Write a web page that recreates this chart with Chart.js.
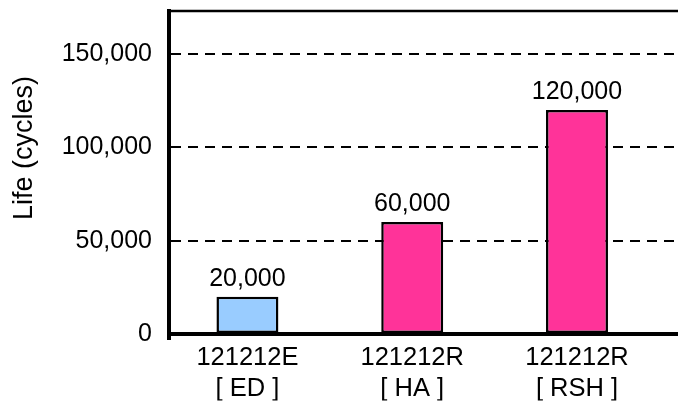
<!DOCTYPE html>
<html>
<head>
<meta charset="utf-8">
<script src="https://cdn.jsdelivr.net/npm/chart.js@4/dist/chart.umd.min.js"></script>
<style>
  html, body { margin: 0; padding: 0; background: #fff; }
  #wrap { width: 678px; height: 402px; position: relative; }
</style>
</head>
<body>
<div id="wrap"><canvas id="c"></canvas></div>
<script>
// Product variants and their rated life
const categories = [['121212E', '[ ED ]'], ['121212R', '[ HA ]'], ['121212R', '[ RSH ]']];
const lifeCycles = [20000, 60000, 120000];
const barColors = ['#99CCFF', '#FF3399', '#FF3399'];
const yTickValues = [0, 50000, 100000, 150000];
const yTitle = 'Life (cycles)';

const FONT = "'Liberation Sans', Arial, Helvetica, sans-serif";
Chart.defaults.font.family = FONT;
Chart.defaults.font.size = 25;
Chart.defaults.color = '#000';

const fmt = v => v.toLocaleString('en-US');

// Value labels above bars, axis title, top frame line and the stub of the y axis below the baseline
const decorations = {
  id: 'decorations',
  afterDatasetsDraw(chart) {
    const { ctx } = chart;
    const meta = chart.getDatasetMeta(0);
    ctx.save();
    ctx.font = '25px ' + FONT;
    ctx.fillStyle = '#000';
    ctx.textAlign = 'center';
    ctx.textBaseline = 'alphabetic';
    meta.data.forEach((bar, i) => {
      ctx.fillText(fmt(lifeCycles[i]), bar.x, bar.y - 11);
    });
    ctx.restore();
  },
  afterDraw(chart) {
    const { ctx, chartArea } = chart;
    ctx.save();
    ctx.strokeStyle = '#000';
    ctx.lineWidth = 2.5;
    ctx.beginPath();
    ctx.moveTo(chartArea.left, chartArea.top);
    ctx.lineTo(chartArea.right, chartArea.top);
    ctx.stroke();
    ctx.lineWidth = 4;
    ctx.beginPath();
    ctx.moveTo(chartArea.left, chartArea.bottom);
    ctx.lineTo(chartArea.left, chartArea.bottom + 6);
    ctx.stroke();

    // rotated y-axis title, placed a little above the plot's vertical centre
    ctx.translate(chartArea.left - 144, chartArea.top + 137);
    ctx.rotate(-Math.PI / 2);
    ctx.font = '27px ' + FONT;
    ctx.fillStyle = '#000';
    ctx.textAlign = 'center';
    ctx.textBaseline = 'middle';
    ctx.fillText(yTitle, 0, 0);
    ctx.restore();
  }
};

new Chart(document.getElementById('c'), {
  type: 'bar',
  data: {
    datasets: [{
      data: lifeCycles.map((v, i) => ({ x: i, y: v })),
      backgroundColor: barColors,
      borderColor: '#000',
      borderWidth: 2.5,
      borderSkipped: false,
      categoryPercentage: 1,
      barPercentage: 0.376
    }]
  },
  options: {
    responsive: true,
    maintainAspectRatio: false,
    animation: false,
    layout: { autoPadding: false, padding: { left: 10, right: 0, top: 11, bottom: 1.5 } },
    plugins: { legend: { display: false }, tooltip: { enabled: false } },
    scales: {
      x: {
        type: 'linear',
        offset: false,
        min: -0.476,
        max: 2.613,
        grid: { display: false },
        border: { display: true, color: '#000', width: 4 },
        afterBuildTicks: axis => { axis.ticks = categories.map((_, i) => ({ value: i })); },
        afterFit: s => { s.height = 66.5; s.paddingLeft = 0; s.paddingRight = 0; },
        ticks: {
          padding: 0,
          maxRotation: 0,
          autoSkip: false,
          font: { size: 25.5, lineHeight: 1.23 },
          callback: v => categories[v]
        }
      },
      y: {
        min: 0,
        max: 173000,
        afterBuildTicks: axis => { axis.ticks = yTickValues.map(v => ({ value: v })); },
        afterFit: s => { s.width = 159; s.paddingTop = 0; s.paddingBottom = 0; },
        grid: {
          drawTicks: false,
          lineWidth: 2,
          color: c => (c.tick && c.tick.value === 0) ? 'rgba(0,0,0,0)' : '#000'
        },
        border: { display: true, color: '#000', width: 4, dash: [10, 7] },
        ticks: {
          padding: 17,
          font: { size: 25 },
          callback: v => fmt(v)
        },
        title: { display: false }
      }
    }
  },
  plugins: [decorations]
});
</script>
</body>
</html>
